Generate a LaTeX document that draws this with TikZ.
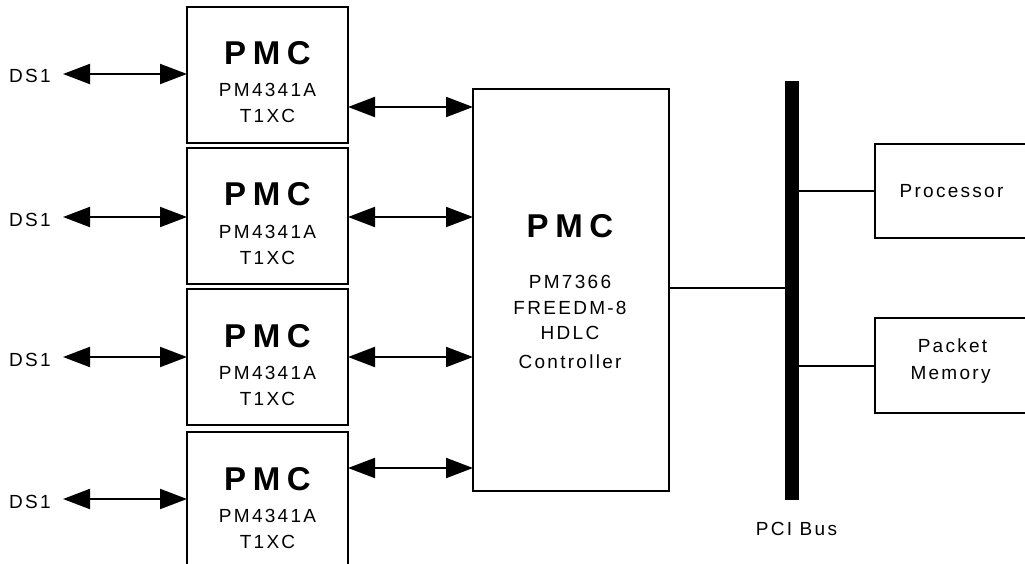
\documentclass[tikz,border=0pt]{standalone}
\usepackage{fontspec}
\setmainfont{Liberation Sans}
\newfontfamily\txtf[LetterSpace=12]{Liberation Sans}
\newfontfamily\pmcf[LetterSpace=20]{Liberation Sans Bold}
\usetikzlibrary{arrows.meta,calc}
\begin{document}
\begin{tikzpicture}[x=1pt,y=-1pt,
  box/.style={draw,line width=2pt,inner sep=0pt,outer sep=0pt},
  bigtxt/.style={inner sep=0pt,anchor=base,font=\pmcf\fontsize{33}{36}\selectfont},
  smalltxt/.style={inner sep=0pt,anchor=base,font=\txtf\fontsize{19}{23}\selectfont},
  link/.style={line width=2pt},
  dbl/.style={line width=2pt,{Triangle[length=27pt,width=20pt]}-{Triangle[length=27pt,width=20pt]}}]
\useasboundingbox (0,0) rectangle (1025,564);
\clip (0,0) rectangle (1025,564);
% T1XC boxes
\foreach \n/\cy in {1/75,2/216,3/357,4/500}{
  \node[box,minimum width=161pt,minimum height=136pt] (t\n) at (267.5,\cy) {};
}
\foreach \n in {1,...,4}{
  \node[bigtxt] (tp\n) at ($(t\n.north)+(0,58)$) {PMC};
  \node[smalltxt] (tm\n) at ($(t\n.north)+(0,90)$) {PM4341A};
  \node[smalltxt] (tx\n) at ($(t\n.north)+(0,116)$) {T1XC};
}
% DS1 labels and arrows
\foreach \n/\y in {1/74,2/217,3/357,4/499}{
  \node[smalltxt,anchor=base west] (ds\n) at (9,\y+9) {DS1};
  \coordinate (dl\n) at (63,\y);
  \draw[dbl] (dl\n) -- (t\n.west |- dl\n);
}
% FREEDM box
\node[box,minimum width=196pt,minimum height=402pt] (f) at (571,290) {};
\node[bigtxt] (fp) at (570,237) {PMC};
\node[smalltxt] (f1) at (570,288) {PM7366};
\node[smalltxt] (f2) at (570,314) {FREEDM-8};
\node[smalltxt] (f3) at (570,339) {HDLC};
\node[smalltxt] (f4) at (570,368) {Controller};
% arrows T1XC -> FREEDM
\foreach \n/\y in {1/107,2/217,3/357,4/468}{
  \coordinate (r\n) at (400,\y);
  \draw[dbl] (t\n.east |- r\n) -- (f.west |- r\n);
}
% PCI bus
\node[fill=black,inner sep=0pt,minimum width=14pt,minimum height=419pt] (bus) at (792,290.5) {};
\node[smalltxt] (pci) at (796.5,535) {PCI Bus};
\coordinate (fb) at (700,288);
\draw[link] (f.east |- fb) -- (bus.west |- fb);
% Processor and memory
\node[box,minimum width=240pt,minimum height=94pt] (proc) at (995,191) {};
\node[smalltxt] (proct) at (951.5,197) {Processor};
\node[box,minimum width=240pt,minimum height=95pt] (mem) at (995,365.5) {};
\node[smalltxt] (memt1) at (952.5,352) {Packet};
\node[smalltxt] (memt2) at (950.5,379) {Memory};
\coordinate (pb) at (830,191);
\coordinate (mb) at (830,366);
\draw[link] (bus.east |- pb) -- (proc.west |- pb);
\draw[link] (bus.east |- mb) -- (mem.west |- mb);
\end{tikzpicture}
\end{document}
